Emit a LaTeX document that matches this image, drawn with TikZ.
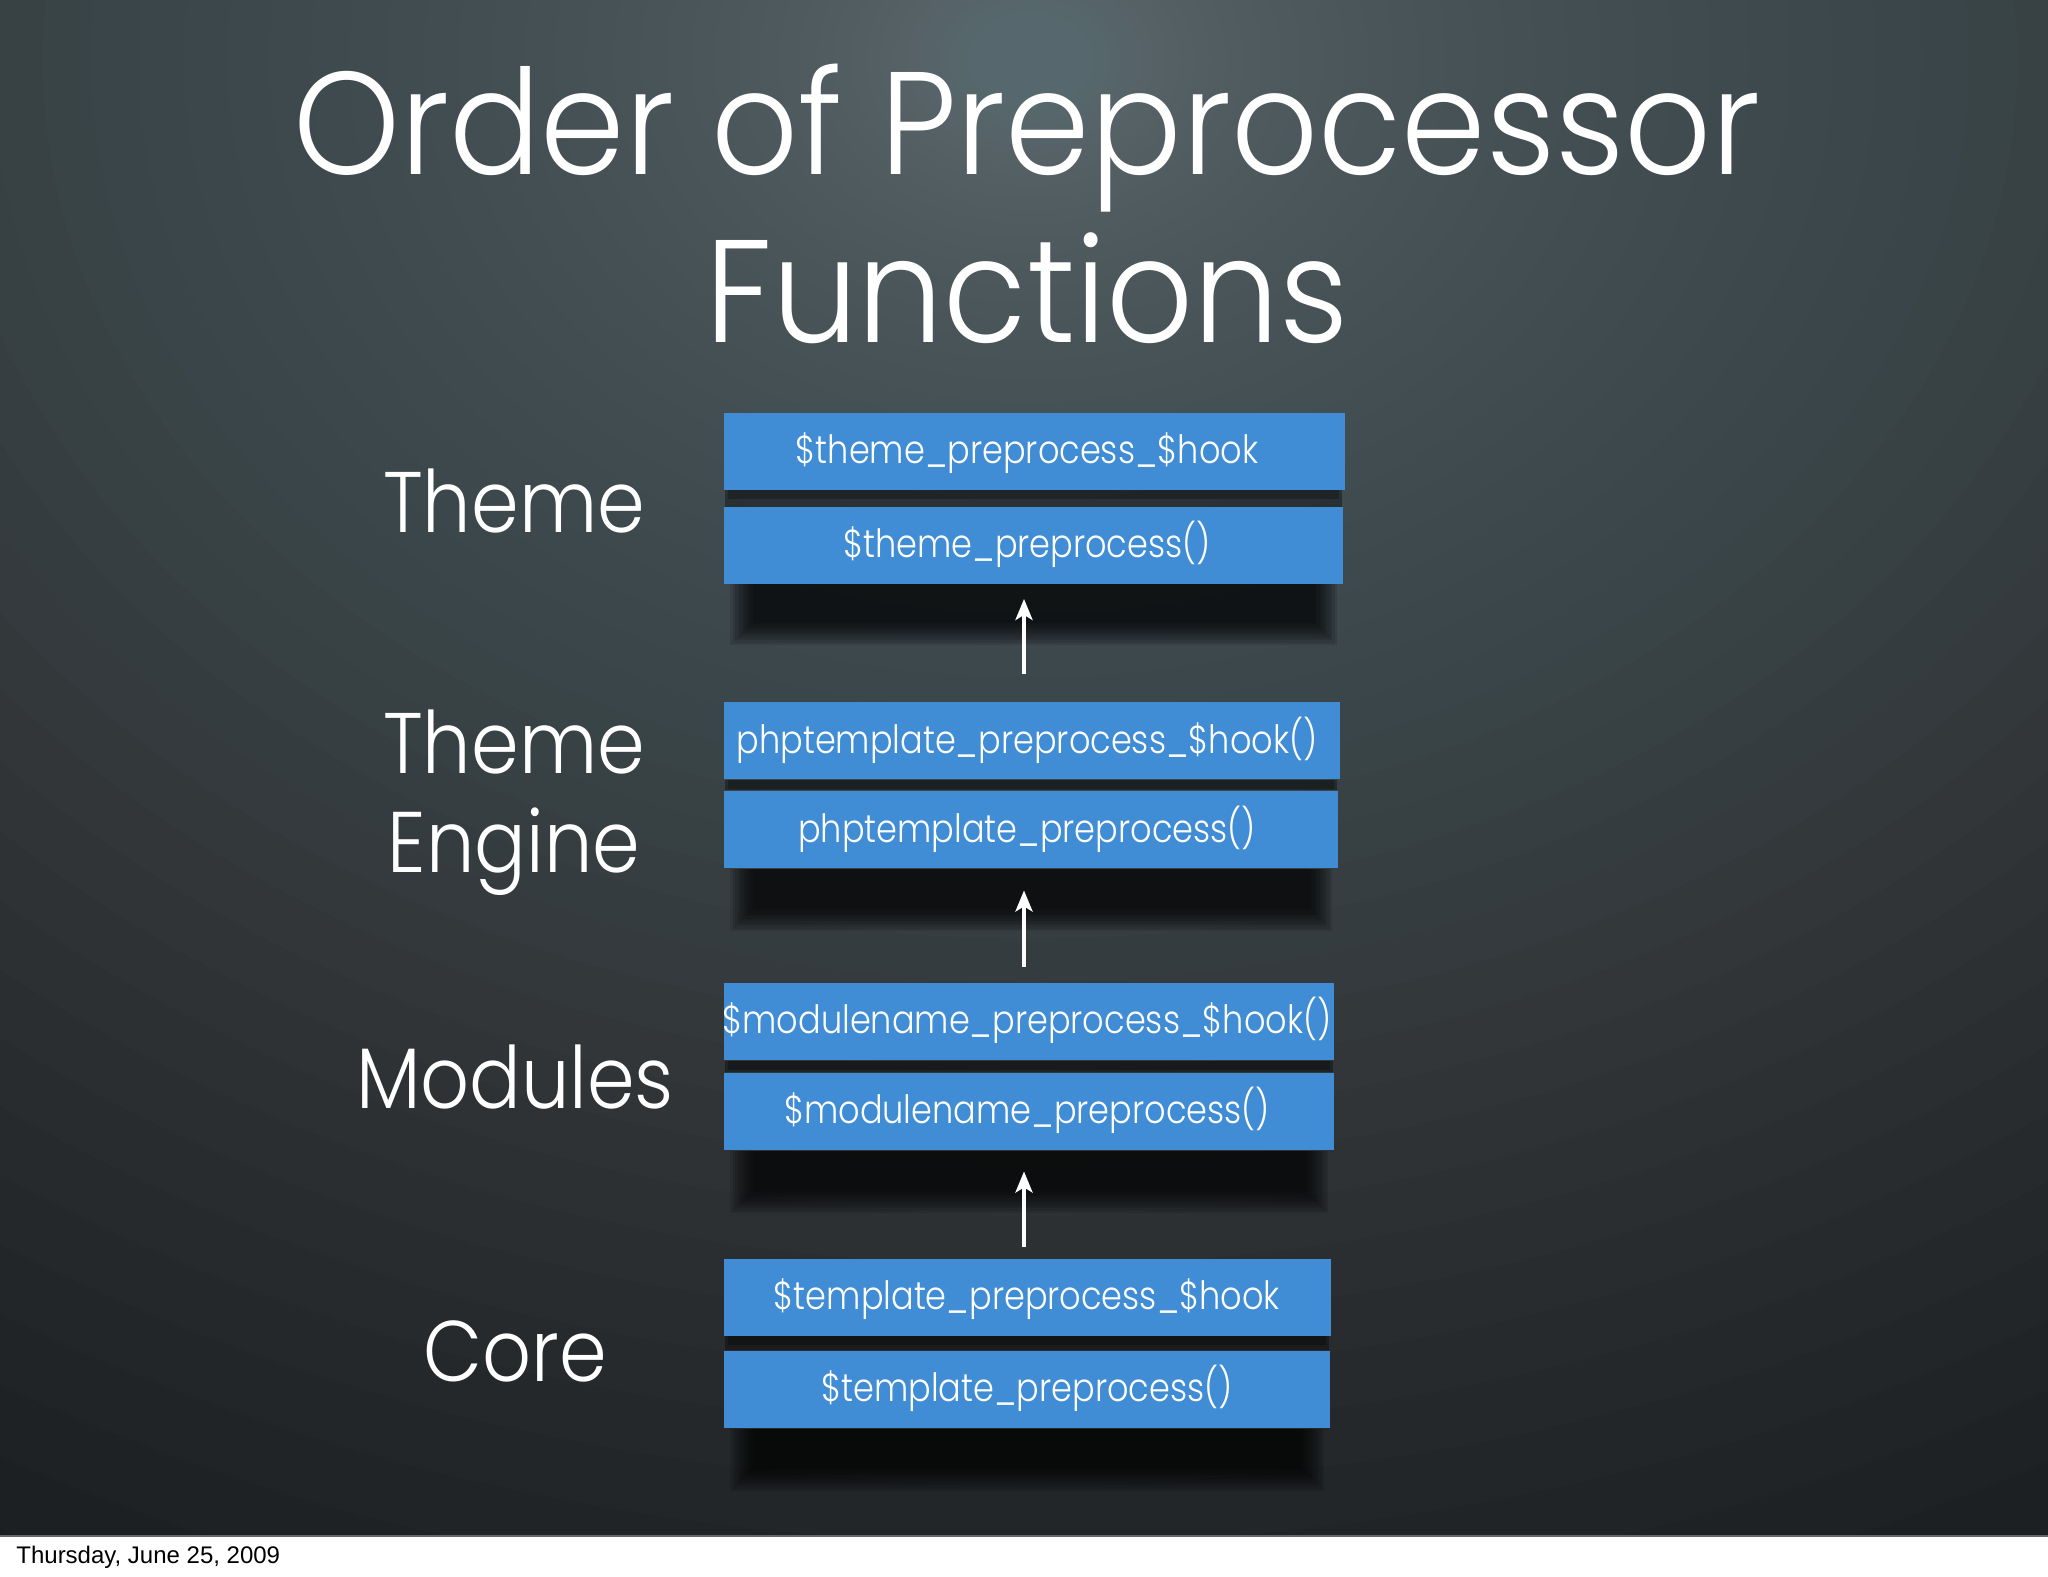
\documentclass[tikz,border=0pt]{standalone}
\usepackage{fontspec}
\IfFontExistsTF{Poppins Light}{%
  \newfontfamily\ttlfont{Poppins Light}[FakeStretch=0.93]
  \newfontfamily\labfont{Poppins Light}[FakeStretch=0.89]
  \newfontfamily\boxfont{Poppins Light}[FakeStretch=0.86]
}{%
  \newfontfamily\ttlfont{Poppins}[FakeStretch=0.93]
  \newfontfamily\labfont{Poppins}[FakeStretch=0.89]
  \newfontfamily\boxfont{Poppins}[FakeStretch=0.86]
}
\newfontfamily\datefont{Liberation Sans}
\usetikzlibrary{arrows.meta}
\definecolor{boxblue}{RGB}{64,141,214}
\definecolor{bgdark}{RGB}{22,23,25}
\definecolor{glowc}{RGB}{122,140,146}
\tikzset{
  fbox/.style={fill=boxblue, draw=none, inner sep=0pt, minimum height=38.5pt},
  ftext/.style={text=white, anchor=base, inner sep=0pt, font=\boxfont\fontsize{19.5}{22}\selectfont},
  layer/.style={text=white, anchor=base, inner sep=0pt, font=\labfont\fontsize{43}{50}\selectfont},
  ttl/.style={text=white, anchor=base, inner sep=0pt, font=\ttlfont\fontsize{73}{80}\selectfont},
  uparrow/.style={draw=white, line width=2pt, -{Stealth[length=10.5pt,width=8.5pt,inset=2.5pt]}},
}
\newcommand{\pairshadow}[3]{% left, right, bottom
  \foreach \k in {0,...,9}{
    \fill[black, opacity=0.11] (#1+6+\k*2.5, #3) rectangle (#2-6-\k*2.5, #3+62-\k*2.5);
  }
}
\newcommand{\gapshadow}[4]{% left, right, top-box bottom, next-box top
  \fill[black, opacity=0.35] (#1+1, #3) rectangle (#2-1, #4);
  \fill[black, opacity=0.25] (#1+4, #3) rectangle (#2-4, #3+9);
}
\begin{document}
\begin{tikzpicture}[x=0.5pt,y=-0.5pt]
\useasboundingbox (0,0) rectangle (2048,1576);
% page
\fill[white] (0,0) rectangle (2048,1576);
\begin{scope}
  \clip (0,0) rectangle (2048,1536);
  \fill[bgdark] (0,0) rectangle (2048,1536);
  \foreach \i in {1,...,80}{
    \pgfmathsetmacro{\rr}{1800*(\i/80)^3}
    \fill[glowc, opacity=0.028] (1030,60) ellipse [x radius=1.3*\rr, y radius=\rr];
  }
\end{scope}
\draw[line width=1pt, color=black!60] (0,1535.5) -- (2048,1535.5);

% title
\node[ttl] (title1) at (1027,174) {Order of Preprocessor};
\node[ttl] (title2) at (1027,342) {Functions};

% layer labels
\node[layer] (lTheme) at (514,532) {Theme};
\node[layer] (lEngine1) at (514,773) {Theme};
\node[layer] (lEngine2) at (514,872) {Engine};
\node[layer] (lModules) at (515,1108) {Modules};
\node[layer] (lCore) at (515,1381) {Core};

% shadows
\gapshadow{724}{1343}{490}{507}
\pairshadow{724}{1343}{583}
\gapshadow{724}{1338}{780}{790}
\pairshadow{724}{1338}{869}
\gapshadow{724}{1334}{1061}{1072}
\pairshadow{724}{1334}{1151}
\gapshadow{724}{1330}{1336}{1350}
\pairshadow{724}{1330}{1429}

% boxes
\node[fbox, minimum width=310.5pt] (b1) at (1034.5,451.5) {};
\node[fbox, minimum width=309.5pt] (b2) at (1033.5,545) {};
\node[fbox, minimum width=308pt]   (b3) at (1032,740.5) {};
\node[fbox, minimum width=307pt]   (b4) at (1031,829.5) {};
\node[fbox, minimum width=305pt]   (b5) at (1029,1021.5) {};
\node[fbox, minimum width=305pt]   (b6) at (1029,1111.5) {};
\node[fbox, minimum width=303.5pt] (b7) at (1027.5,1297.5) {};
\node[fbox, minimum width=303pt]   (b8) at (1027,1389.5) {};

\node[ftext] (t1) at (1027,463) {\$theme\_preprocess\_\$hook};
\node[ftext] (t2) at (1027,557) {\$theme\_preprocess()};
\node[ftext] (t3) at (1027,753) {phptemplate\_preprocess\_\$hook()};
\node[ftext] (t4) at (1027,842) {phptemplate\_preprocess()};
\node[ftext] (t5) at (1027,1033) {\$modulename\_preprocess\_\$hook()};
\node[ftext] (t6) at (1027,1123) {\$modulename\_preprocess()};
\node[ftext] (t7) at (1027,1309) {\$template\_preprocess\_\$hook};
\node[ftext] (t8) at (1027,1401) {\$template\_preprocess()};

% arrows
\coordinate (ax) at (1024,0);
\draw[uparrow, shorten <=14pt, shorten >=7.5pt] (b3.north -| ax) -- (b2.south -| ax);
\draw[uparrow, shorten <=8pt, shorten >=11pt] (b5.north -| ax) -- (b4.south -| ax);
\draw[uparrow, shorten <=6pt, shorten >=10.5pt] (b7.north -| ax) -- (b6.south -| ax);

% date
\node[anchor=base west, inner sep=0pt, text=black, font=\datefont\fontsize{12}{14}\selectfont] (date) at (16,1563) {Thursday, June 25, 2009};
\end{tikzpicture}
\end{document}
